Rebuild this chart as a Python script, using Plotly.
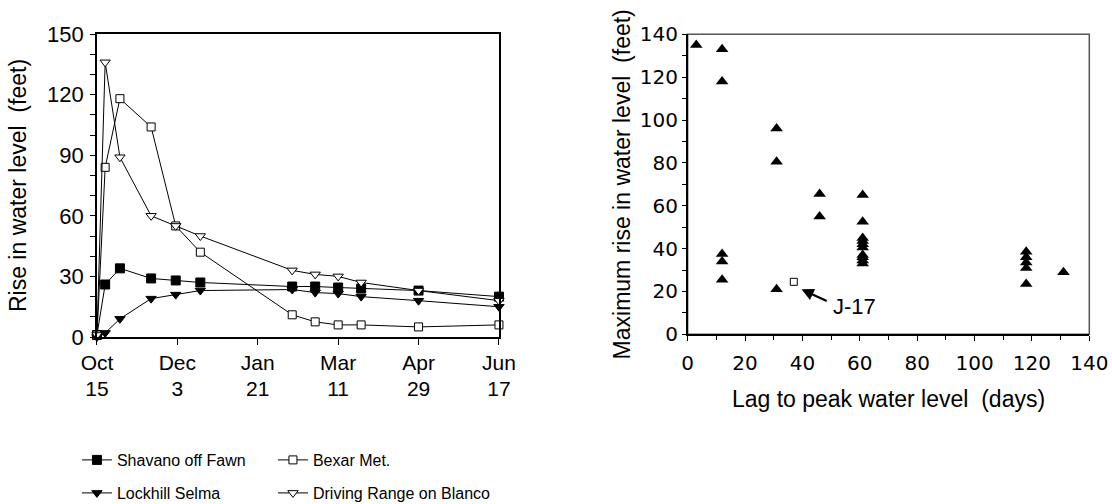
import plotly.graph_objects as go

# ---------------- Left chart data ----------------
sample_dates = ["1998-10-15", "1998-10-20", "1998-10-29", "1998-11-17", "1998-12-02",
                "1998-12-17", "1999-02-11", "1999-02-25", "1999-03-11", "1999-03-25",
                "1999-04-29", "1999-06-17"]
shavano = [1, 26, 34, 29, 28, 27, 25, 25, 24.5, 24, 23, 20]
bexar = [1, 84, 118, 104, 55, 42, 11, 7.5, 6, 6, 5, 6]
lockhill = [0, 2, 9, 19, 21, 23, 23.5, 22, 21.5, 20, 18, 15]
driving = [1, 136, 89, 60, 55, 50, 33, 31, 30, 27, 23, 18]

date_tickvals = ["1998-10-15", "1998-12-03", "1999-01-21", "1999-03-11", "1999-04-29", "1999-06-17"]
month_ticktext = ["Oct", "Dec", "Jan", "Mar", "Apr", "Jun"]
day_ticktext = ["15", "3", "21", "11", "29", "17"]

# ---------------- Right chart data ----------------
lag_days = [3, 12, 12, 12, 12, 12, 31, 31, 31, 46, 46,
            61, 61, 61, 61, 61, 61, 61, 61, 61, 61,
            118, 118, 118, 118, 118, 131]
max_rise = [135, 133, 118, 37.5, 34, 25.5, 96, 80.5, 21, 65.5, 55,
            65, 52.5, 45, 43.5, 42, 40.5, 37, 36, 34.5, 33,
            38.5, 36, 33.5, 31, 23.5, 29]
j17_lag = [37]
j17_rise = [24.5]

ARIAL = "Liberation Sans, Arial, sans-serif"
fig = go.Figure()

line_style = dict(color="black", width=1)
fig.add_trace(go.Scatter(x=sample_dates, y=shavano, name="Shavano off Fawn", mode="lines+markers",
                         line=line_style, cliponaxis=False, legendwidth=151,
                         marker=dict(symbol="square", size=9, color="black",
                                     line=dict(color="black", width=1)),
                         legend="legend"))
fig.add_trace(go.Scatter(x=sample_dates, y=bexar, name="Bexar Met.", mode="lines+markers",
                         line=line_style, cliponaxis=False, legendwidth=200,
                         marker=dict(symbol="square", size=8, color="white",
                                     line=dict(color="black", width=1)),
                         legend="legend"))
fig.add_trace(go.Scatter(x=sample_dates, y=lockhill, name="Lockhill Selma", mode="lines+markers",
                         line=line_style, cliponaxis=False, legendwidth=151,
                         marker=dict(symbol="triangle-down", size=9, color="black",
                                     line=dict(color="black", width=1)),
                         legend="legend2"))
fig.add_trace(go.Scatter(x=sample_dates, y=driving, name="Driving Range on Blanco", mode="lines+markers",
                         line=line_style, cliponaxis=False, legendwidth=200,
                         marker=dict(symbol="triangle-down", size=9, color="white",
                                     line=dict(color="black", width=1)),
                         legend="legend2"))
# invisible helper trace so the second (day-number) date axis is drawn
fig.add_trace(go.Scatter(x=date_tickvals[:1], y=[None], xaxis="x3", yaxis="y", mode="markers",
                         marker=dict(opacity=0), showlegend=False, hoverinfo="skip"))

fig.add_trace(go.Scatter(x=lag_days, y=max_rise, mode="markers", xaxis="x2", yaxis="y2",
                         showlegend=False, cliponaxis=False,
                         marker=dict(symbol="triangle-up", size=11, color="black")))
fig.add_trace(go.Scatter(x=j17_lag, y=j17_rise, mode="markers", xaxis="x2", yaxis="y2",
                         showlegend=False, cliponaxis=False,
                         marker=dict(symbol="square", size=7, color="white",
                                     line=dict(color="black", width=1))))

fig.add_annotation(x=39.7, y=21, ax=49, ay=15.2, xref="x2", yref="y2", axref="x2", ayref="y2",
                   text="", showarrow=True, arrowhead=2, arrowsize=1.1, arrowwidth=2.2,
                   arrowcolor="black")
fig.add_annotation(x=58.3, y=13.2, xref="x2", yref="y2", text="J-17", showarrow=False,
                   font=dict(family=ARIAL, size=22, color="black"))

fig.add_shape(type="rect", xref="x2 domain", yref="y2 domain", x0=0, x1=1, y0=0, y1=1,
              line=dict(color="#555555", width=1.5), layer="below")

fig.update_layout(
    width=1112, height=504,
    margin=dict(l=0, r=0, t=0, b=0, autoexpand=False),
    paper_bgcolor="white", plot_bgcolor="white",
    font=dict(family=ARIAL, color="black"),
    xaxis=dict(domain=[0.0872, 0.4487], type="date", range=["1998-10-15", "1999-06-17"],
               tickvals=date_tickvals, ticktext=month_ticktext, ticks="outside", ticklen=6,
               tickcolor="black", showline=True, linecolor="black", linewidth=1.5, mirror=True,
               showgrid=False, zeroline=False, tickfont=dict(family=ARIAL, size=21),
               ticklabelstandoff=0),
    xaxis3=dict(overlaying="x", anchor="y", side="bottom", type="date",
                range=["1998-10-15", "1999-06-17"], tickvals=date_tickvals, ticktext=day_ticktext,
                ticks="", showline=False, showgrid=False, zeroline=False,
                tickfont=dict(family=ARIAL, size=21), ticklabelstandoff=37),
    yaxis=dict(domain=[0.3313, 0.9325], range=[0, 150], tick0=0, dtick=30,
               ticks="outside", ticklen=5, tickcolor="black",
               minor=dict(tick0=0, dtick=10, ticks="outside", ticklen=5, tickcolor="black"),
               showline=True, linecolor="black", linewidth=1.5, mirror=True,
               showgrid=False, zeroline=False, tickfont=dict(family=ARIAL, size=22),
               ticklabelstandoff=2,
               title=dict(text="Rise in water level \u00a0(feet)", font=dict(family=ARIAL, size=23),
                          standoff=14)),
    xaxis2=dict(domain=[0.6184, 0.9796], anchor="y2", range=[0, 140], tick0=0, dtick=20,
                ticks="outside", ticklen=5, tickcolor="black",
                minor=dict(tick0=0, dtick=10, ticks="outside", ticklen=4, tickcolor="black"),
                showline=True, linecolor="black", linewidth=1.5,
                showgrid=False, zeroline=False, tickfont=dict(family="DejaVu Sans", size=20),
                ticklabelstandoff=5,
                title=dict(text="Lag to peak water level \u00a0(days)", font=dict(family=ARIAL, size=23),
                           standoff=17)),
    yaxis2=dict(domain=[0.3367, 0.9319], anchor="x2", range=[0, 140], tick0=0, dtick=20,
                ticks="outside", ticklen=4, tickcolor="black",
                minor=dict(tick0=0, dtick=10, ticks="outside", ticklen=4, tickcolor="black"),
                showline=True, linecolor="black", linewidth=1.5,
                showgrid=False, zeroline=False, tickfont=dict(family="DejaVu Sans", size=20),
                title=dict(text="Maximum rise in water level \u00a0(feet)", font=dict(family=ARIAL, size=23),
                           standoff=3)),
    legend=dict(orientation="h", x=0.0692, xanchor="left", y=0.0873, yanchor="middle",
                font=dict(family=ARIAL, size=16),
                bgcolor="rgba(0,0,0,0)", traceorder="normal"),
    legend2=dict(orientation="h", x=0.0692, xanchor="left", y=0.0218, yanchor="middle",
                 font=dict(family=ARIAL, size=16),
                 bgcolor="rgba(0,0,0,0)", traceorder="normal"),
)

# remove the default page margin so the 1112x504 figure fills the window exactly
fig.write_html("out.html",
               config={"displayModeBar": False},
               post_script="document.body.style.margin='0';"
                           "document.documentElement.style.overflow='hidden';")
